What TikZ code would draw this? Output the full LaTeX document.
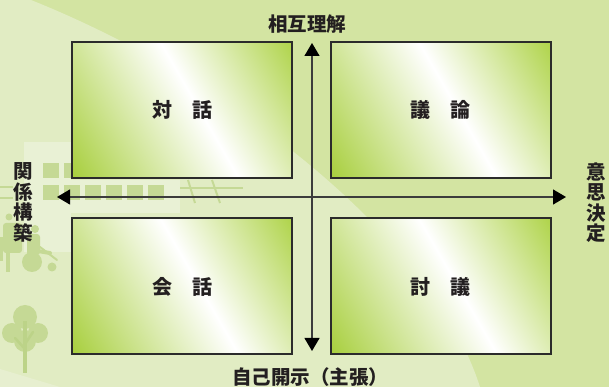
\documentclass[tikz,border=0pt]{standalone}
\usepackage{fontspec}
\newfontfamily\jp{Noto Sans CJK JP}
\usetikzlibrary{arrows.meta}

\definecolor{bgbase}{HTML}{D3E4A2}
\definecolor{bglight}{HTML}{E1ECC3}
\definecolor{bgpale}{HTML}{E9F1D5}
\definecolor{deco}{HTML}{C5D995}
\definecolor{decodark}{HTML}{BCD388}
\definecolor{quadgreenA}{HTML}{A8CF3E}
\definecolor{quadgreenB}{HTML}{B0D44C}
\definecolor{ink}{HTML}{231F20}
\definecolor{frameline}{HTML}{2B2B2B}
\definecolor{axisgray}{HTML}{3C3C3C}

% diagonal green-white-green fill of the four quadrants
\pgfdeclarehorizontalshading{quadshade}{100bp}{color(0bp)=(quadgreenA); color(16bp)=(quadgreenA); color(54bp)=(white); color(84bp)=(quadgreenB); color(100bp)=(quadgreenB)}

\tikzset{
  quad/.style={draw=frameline, line width=2pt, shade, shading=quadshade,
    shading angle=30, minimum width=220pt, minimum height=136pt, inner sep=0pt,
    font=\jp\bfseries\fontsize{20}{24}\selectfont, text=ink},
  axisline/.style={draw=axisgray, line width=1.2pt,
    {Triangle[length=13pt,width=15pt,color=black]}-{Triangle[length=13pt,width=15pt,color=black]}},
  axislabel/.style={font=\jp\bfseries\fontsize{19.5}{20.5}\selectfont, text=ink, inner sep=0pt, align=center},
  decofill/.style={fill=deco, draw=none},
  decoline/.style={draw=deco, line width=2pt},
}

\begin{document}
\begin{tikzpicture}[x=1pt, y=1pt]
  \useasboundingbox (0,0) rectangle (609,387);

  % backdrop
  \fill[bgbase] (0,0) rectangle (609,387);
  \fill[bglight] (0,387) -- (31,387) .. controls (231,307) and (432,150) .. (480,0) -- (0,0) -- cycle;
  \fill[bgpale!70!bglight] (0,18) -- (60,0) -- (0,0) -- cycle;

  % faint building
  \fill[bgpale] (24,135) rectangle (71,245);
  \fill[bgpale] (24,174) rectangle (180,207);
  \draw[decoline, line width=1.5pt] (0,200) -- (13,200);
  \draw[decoline, line width=1.5pt] (0,189) -- (13,189);
  \foreach \wx in {43,64} \fill[deco] (\wx,209) rectangle ++(15.5,15);
  \foreach \wx in {43,64,85,106,127,148} \fill[deco] (\wx,187) rectangle ++(15.5,15);
  \draw[decoline] (180,199) -- (243,199);
  \draw[decoline] (180,190) -- (243,190);
  \draw[decoline] (188,207) -- (195,184);
  \draw[decoline] (212,207) -- (220,184);

  % people
  \fill[deco] (9,170) circle (3.5);
  \fill[deco, rounded corners=3pt] (3,134) rectangle (22,164);
  \fill[deco] (6,115) rectangle (10,134);
  \fill[deco] (0,126) rectangle (3,150);
  \fill[deco] (35,158) circle (4);
  \fill[deco, rounded corners=3pt] (27,132) rectangle (40,153);
  \fill[deco] (32,125) circle (10);
  \fill[deco] (52,120) circle (4.5);
  \draw[decoline, line cap=round] (40,140) -- (57,127);
  \draw[decoline, line width=4pt, line cap=round] (38,136) -- (50,134);

  % tree
  \fill[deco] (25,70) circle (12);
  \fill[deco] (12,54) circle (10);
  \fill[deco] (38,54) circle (10);
  \fill[deco] (25,46) circle (11);
  \fill[decodark] (23,14) rectangle (27,66);
  \draw[decodark, line width=2.5pt, line cap=round] (25,38) -- (15,49);
  \draw[decodark, line width=2.5pt, line cap=round] (25,43) -- (33,55);

  % four quadrants
  \node[quad] (taiwa)  at (182,277)   {対　話};
  \node[quad] (giron)  at (440.5,277) {議　論};
  \node[quad] (kaiwa)  at (182,100.5) {会　話};
  \node[quad] (tougi)  at (440.5,100.5) {討　議};

  % axes
  \coordinate (axisTop)    at (312,344);
  \coordinate (axisBottom) at (312,36);
  \coordinate (axisLeft)   at (57,190);
  \coordinate (axisRight)  at (566,190);
  \draw[axisline] (axisBottom) -- (axisTop);
  \draw[axisline] (axisLeft) -- (axisRight);

  % axis captions
  \node[axislabel] (lblTop)    at (307,363)   {相互理解};
  \node[axislabel] (lblBottom) at (310,9.5)   {自己開示（主張）};
  \node[axislabel] (lblLeft)   at (23,184.5)  {関\\係\\構\\築};
  \node[axislabel] (lblRight)  at (596,184.5) {意\\思\\決\\定};
\end{tikzpicture}
\end{document}
